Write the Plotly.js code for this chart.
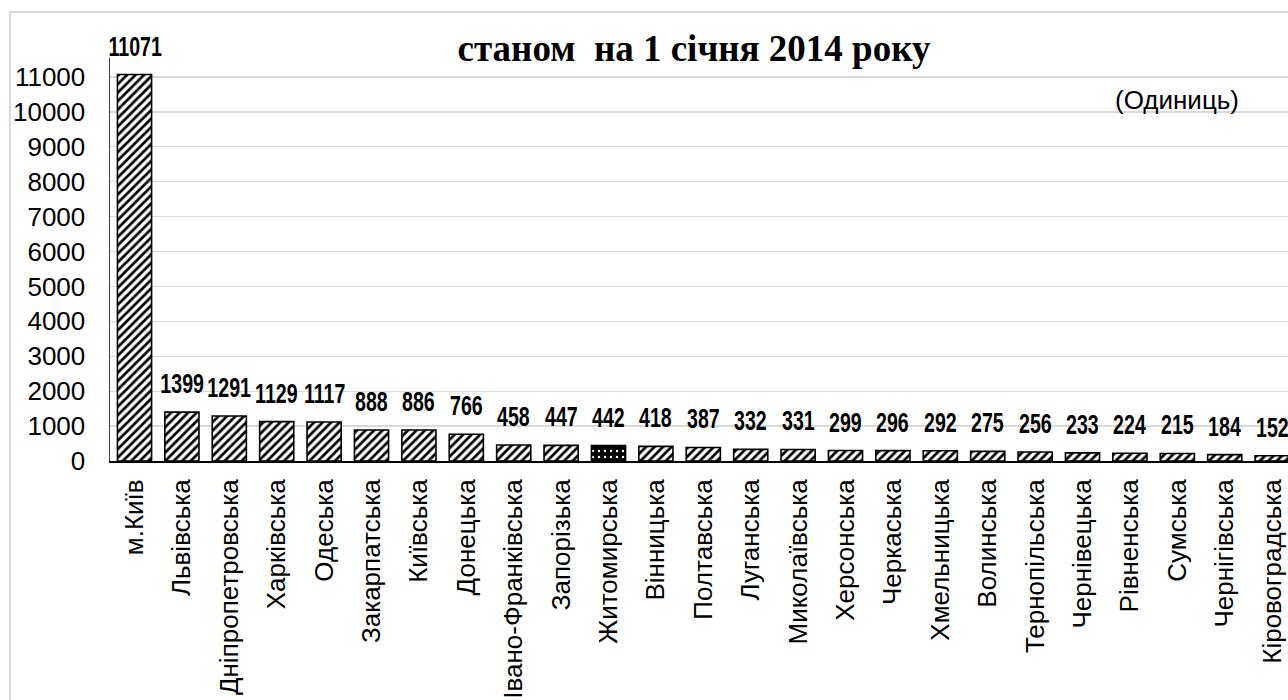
<!DOCTYPE html>
<html><head><meta charset="utf-8">
<script src="https://cdn.plot.ly/plotly-3.0.1.min.js"></script>
<style>html,body{margin:0;padding:0;overflow:hidden;background:#fff}#chart{width:1400px;height:800px}</style>
</head><body><div id="chart"></div>
<script>
// ---- data ----
const regions = ["м.Київ","Львівська","Дніпропетровська","Харківська","Одеська","Закарпатська","Київська","Донецька","Івано-Франківська","Запорізька","Житомирська","Вінницька","Полтавська","Луганська","Миколаївська","Херсонська","Черкаська","Хмельницька","Волинська","Тернопільська","Чернівецька","Рівненська","Сумська","Чернігівська","Кіровоградська"];
const counts = [11071,1399,1291,1129,1117,888,886,766,458,447,442,418,387,332,331,299,296,292,275,256,233,224,215,184,152];
const yTicks = [0,1000,2000,3000,4000,5000,6000,7000,8000,9000,10000,11000];
const highlighted = "Житомирська";
const titleText = "станом  на 1 січня 2014 року";
const unitText = "(Одиниць)";

// ---- geometry (pixels) ----
const W = 1400, H = 800;
const L = 110, T = 58, BASE = 461;
const plotW = W - L, plotH = BASE - T;
const catStep = 47.4;
const xStart = -0.517;
const yMax = 11000 * plotH / 384;
const px2paperX = p => (p - L) / plotW;
const px2paperY = p => (BASE - p) / plotH;

const shapesArr = regions.map(r => r === highlighted ? "." : "/");
const fgArr = regions.map(r => r === highlighted ? "#ffffff" : "#000000");
const bgArr = regions.map(r => r === highlighted ? "#000000" : "#ffffff");
const solArr = regions.map(r => r === highlighted ? 0.12 : 0.45);

const trace = {
  type: "bar",
  x: regions,
  y: counts,
  width: 0.72,
  marker: {
    color: "#ffffff",
    line: {color: "#000000", width: 1.6},
    pattern: {shape: shapesArr, fgcolor: fgArr, bgcolor: bgArr, size: 6, solidity: solArr}
  },
  hoverinfo: "skip"
};

const valueLabels = regions.map((r, i) => ({
  x: r, y: counts[i], xref: "x", yref: "y",
  text: String(counts[i]), showarrow: false,
  yanchor: "bottom", xanchor: "center", yshift: 11,
  font: {family: "Liberation Sans, Arial, sans-serif", size: 28, weight: 700, color: "#000"}
}));

const tickFont = {family: "Liberation Sans, Arial, sans-serif", size: 26, color: "#000"};

const layout = {
  width: W, height: H,
  margin: {l: L, r: W - L - plotW, t: T, b: H - BASE, pad: 0},
  paper_bgcolor: "#ffffff", plot_bgcolor: "#ffffff",
  showlegend: false,
  title: {
    text: "<b>" + titleText + "</b>",
    font: {family: "Liberation Serif, Times New Roman, serif", size: 37, color: "#000"},
    xref: "container", x: 694 / W, xanchor: "center",
    yref: "container", y: 1 - 48 / H, yanchor: "middle"
  },
  xaxis: {
    type: "category",
    range: [xStart, xStart + plotW / catStep],
    tickangle: -90,
    tickfont: tickFont,
    ticks: "", showgrid: false, zeroline: false,
    showline: true, linecolor: "#000000", linewidth: 2,
    ticklabelstandoff: 6,
    fixedrange: true
  },
  yaxis: {
    range: [0, yMax],
    tickvals: yTicks,
    ticktext: yTicks.map(String),
    tickfont: tickFont,
    ticks: "", showgrid: true, gridcolor: "#d9d9d9", gridwidth: 1.3,
    zeroline: false,
    showline: true, linecolor: "#404040", linewidth: 1.5,
    ticklabelstandoff: 18,
    fixedrange: true
  },
  annotations: valueLabels.concat([{
    xref: "paper", yref: "paper",
    x: px2paperX(1177), y: px2paperY(100),
    text: unitText, showarrow: false, xanchor: "center", yanchor: "middle",
    font: {family: "Liberation Sans, Arial, sans-serif", size: 26, color: "#000"}
  }]),
  shapes: [{
    type: "rect", xref: "paper", yref: "paper",
    x0: px2paperX(10), x1: px2paperX(1390),
    y0: px2paperY(790), y1: px2paperY(12),
    line: {color: "#d9d9d9", width: 2}, fillcolor: "rgba(0,0,0,0)", layer: "below"
  }]
};

Plotly.newPlot("chart", [trace], layout, {displayModeBar: false, staticPlot: true}).then(gd => {
  // condense the value labels (the reference uses a narrow display face)
  gd.querySelectorAll(".annotation-text").forEach(el => {
    if (/^\d+$/.test(el.textContent.trim())) {
      el.style.transformBox = "fill-box";
      el.style.transformOrigin = "center";
      el.style.transform = "scaleX(0.7)";
    }
  });
});
</script></body></html>
